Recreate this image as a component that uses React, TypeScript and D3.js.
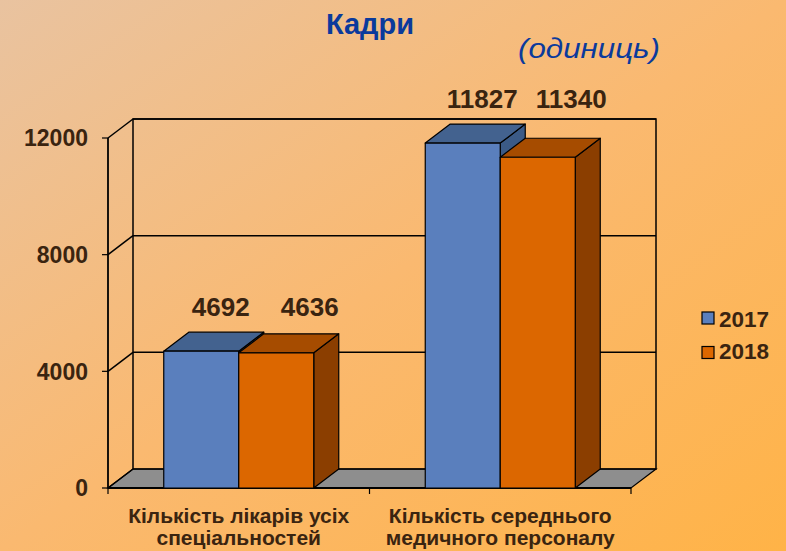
import React from "react";
import * as d3 from "d3";

const categories = ["Кількість лікарів усіх спеціальностей", "Кількість середнього медичного персоналу"];
const categoryLines = [
  ["Кількість лікарів усіх", "спеціальностей"],
  ["Кількість середнього", "медичного персоналу"],
];
const seriesNames = ["2017", "2018"];
const values2017 = [4692, 11827];
const values2018 = [4636, 11340];
const yTicks = [0, 4000, 8000, 12000];
const titleText = "Кадри";
const unitText = "(одиниць)";

const W = 786;
const H = 551;
const FONT = "'Liberation Sans', Arial, sans-serif";
const TEXT = "#3a2410";
const DX = 25;
const DY = -19;

const colors = [
  { front: "#5a7fbd", top: "#43628f", side: "#3b5a86" },
  { front: "#dc6700", top: "#a64c00", side: "#8b3e00" },
];

export default function App() {
  const y = d3.scaleLinear().domain([0, 12000]).range([488, 138]);
  const x = d3.scaleBand<string>().domain(categories).range([108, 631]);
  const inner = d3.scaleBand<string>().domain(seriesNames).range([0, 150]);
  const seriesValues = [values2017, values2018];
  const x0 = x.range()[0];
  const x1 = x.range()[1];
  const y0 = y(0);
  const yTop = y(12000);

  const pts = (p: [number, number][]) => p.map((d) => d.join(",")).join(" ");

  return (
    <svg width={W} height={H} style={{ position: "absolute", left: 0, top: 0 }}>
      <defs>
        <linearGradient id="bg" x1="0" y1="0" x2="1" y2="1">
          <stop offset="0" stopColor="#e9c3a0" />
          <stop offset="0.5" stopColor="#fab970" />
          <stop offset="1" stopColor="#ffb347" />
        </linearGradient>
      </defs>
      <rect x={0} y={0} width={W} height={H} fill="url(#bg)" />

      {/* title */}
      <text x={370} y={34} textAnchor="middle" fontFamily={FONT} fontWeight="bold" fontSize={29} fill="#0b3a9c">
        {titleText}
      </text>
      <text x={518} y={58} fontFamily={FONT} fontStyle="italic" fontSize={27} fill="#0b3a9c" textLength={142} lengthAdjust="spacingAndGlyphs">
        {unitText}
      </text>

      {/* floor */}
      <polygon
        points={pts([[x0, y0], [x1, y0], [x1 + DX, y0 + DY], [x0 + DX, y0 + DY]])}
        fill="#8e8e8e"
        stroke="#000"
        strokeWidth={1.2}
      />
      {/* back wall */}
      <rect x={x0 + DX} y={yTop + DY} width={x1 - x0} height={y0 - yTop} fill="none" stroke="#000" strokeWidth={1.5} />
      {/* gridlines on back and left wall */}
      {yTicks.map((t) => (
        <g key={t}>
          {t > 0 && (
            <line x1={x0 + DX} x2={x1 + DX} y1={y(t) + DY} y2={y(t) + DY} stroke="#000" strokeWidth={1.5} />
          )}
          <line x1={x0} x2={x0 + DX} y1={y(t)} y2={y(t) + DY} stroke="#000" strokeWidth={1.5} />
          <line x1={x0 - 6} x2={x0} y1={y(t)} y2={y(t)} stroke="#000" strokeWidth={1.2} />
          <text x={88} y={y(t)} dy="0.36em" textAnchor="end" fontFamily={FONT} fontWeight="bold" fontSize={23} fill={TEXT}>
            {t}
          </text>
        </g>
      ))}
      {/* left axis */}
      <line x1={x0} x2={x0} y1={y0} y2={yTop} stroke="#000" strokeWidth={1.8} />
      {/* front floor edge and ticks */}
      <line x1={x0} x2={x1} y1={y0} y2={y0} stroke="#000" strokeWidth={1.8} />
      {[x0, x0 + x.step(), x1].map((tx, i) => (
        <line key={i} x1={tx} x2={tx} y1={y0} y2={y0 + 6} stroke="#000" strokeWidth={1.2} />
      ))}

      {/* bars */}
      {categories.map((c, ci) => {
        const groupStart = (x(c) as number) + x.bandwidth() / 2 - 75;
        return (
          <g key={c}>
            {seriesNames.map((s, si) => {
              const v = seriesValues[si][ci];
              const bx = groupStart + (inner(s) as number);
              const bw = inner.bandwidth();
              const by = y(v);
              const col = colors[si];
              return (
                <g key={s} stroke="#000" strokeWidth={1.2} strokeLinejoin="round">
                  <polygon
                    points={pts([[bx + bw, by], [bx + bw + DX, by + DY], [bx + bw + DX, y0 + DY], [bx + bw, y0]])}
                    fill={col.side}
                  />
                  <polygon
                    points={pts([[bx, by], [bx + DX, by + DY], [bx + bw + DX, by + DY], [bx + bw, by]])}
                    fill={col.top}
                  />
                  <rect x={bx} y={by} width={bw} height={y0 - by} fill={col.front} />
                </g>
              );
            })}
          </g>
        );
      })}

      {/* value labels */}
      {categories.map((c, ci) => {
        const groupMax = d3.max(seriesValues, (sv) => sv[ci]) as number;
        const cx = (x(c) as number) + x.bandwidth() / 2 + DX / 2 + 14;
        return seriesNames.map((s, si) => (
          <text
            key={c + s}
            x={cx + (si - 0.5) * 89}
            y={y(groupMax) + DY - 16}
            textAnchor="middle"
            fontFamily={FONT}
            fontWeight="bold"
            fontSize={26}
            fill={TEXT}
          >
            {seriesValues[si][ci]}
          </text>
        ));
      })}

      {/* category labels */}
      {categories.map((c, ci) => (
        <text key={c} textAnchor="middle" fontFamily={FONT} fontWeight="bold" fontSize={21} fill={TEXT}>
          {categoryLines[ci].map((ln, li) => (
            <tspan key={li} x={(x(c) as number) + x.bandwidth() / 2} y={523 + li * 22}>
              {ln}
            </tspan>
          ))}
        </text>
      ))}

      {/* legend */}
      {seriesNames.map((s, si) => (
        <g key={s}>
          <rect x={702} y={312 + si * 34.5} width={12} height={12} fill={colors[si].front} stroke="#000" strokeWidth={1.2} />
          <text x={719} y={327 + si * 32} fontFamily={FONT} fontWeight="bold" fontSize={22.5} fill={TEXT}>
            {s}
          </text>
        </g>
      ))}
    </svg>
  );
}
